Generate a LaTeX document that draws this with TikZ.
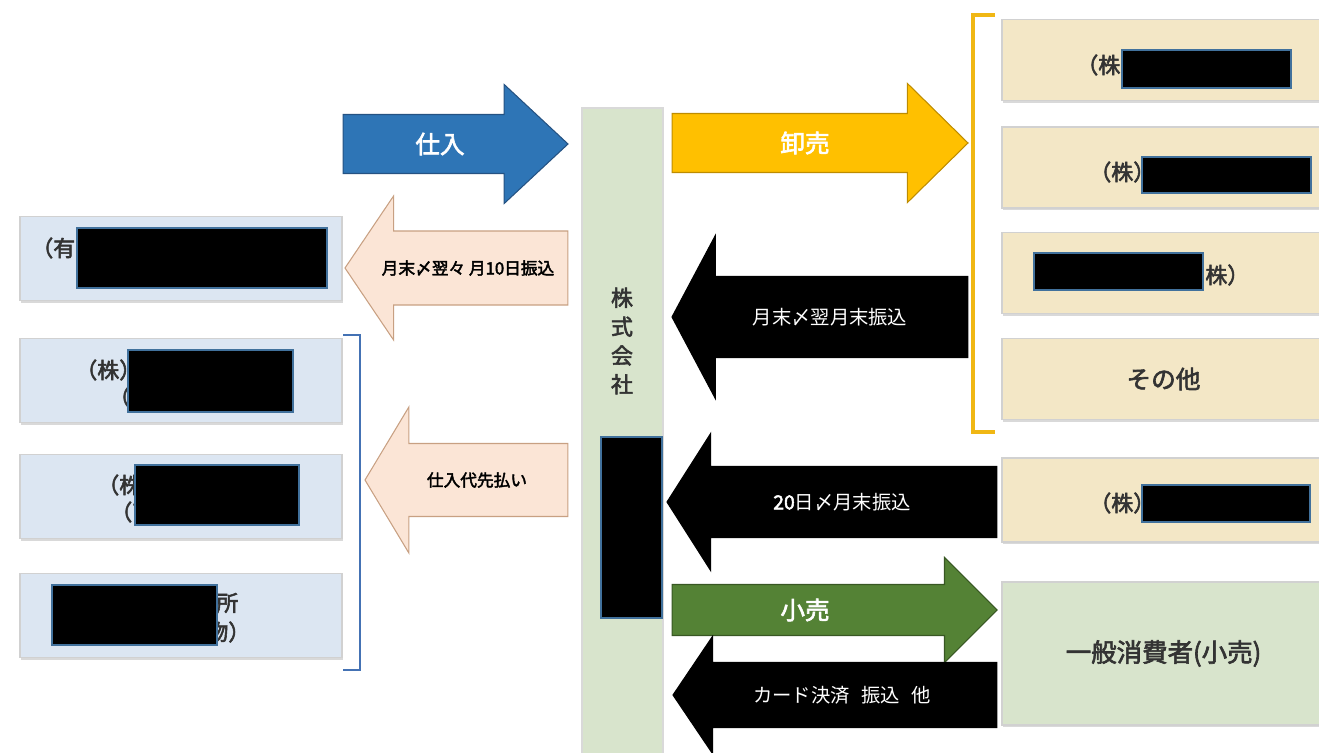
\documentclass[tikz,border=0pt]{standalone}
\usepackage{fontspec}
\setmainfont{Noto Sans CJK JP}[AutoFakeBold=2.5]
\usepackage{xcolor}
\usetikzlibrary{shapes.arrows, shadows}
\definecolor{buyblue}{RGB}{46,117,182}
\definecolor{buyline}{RGB}{37,82,130}
\definecolor{sellorange}{RGB}{255,192,0}
\definecolor{sellline}{RGB}{190,140,0}
\definecolor{paypeach}{RGB}{251,229,214}
\definecolor{payline}{RGB}{200,160,130}
\definecolor{retailgreen}{RGB}{84,130,53}
\definecolor{retailline}{RGB}{56,87,35}
\definecolor{compgreen}{RGB}{216,228,204}
\definecolor{custbeige}{RGB}{243,231,198}
\definecolor{supblue}{RGB}{220,230,242}
\definecolor{bracketgold}{RGB}{240,183,20}
\definecolor{bracketblue}{RGB}{68,114,180}
\definecolor{redblue}{RGB}{65,113,156}

\begin{document}
\begin{tikzpicture}[x=0.02cm, y=-0.02cm, every node/.style={font=\normalfont}]
    % Define styles
    \tikzstyle{box} = [rectangle, draw=black!18, line width=1pt, minimum width=6.44cm, minimum height=1.68cm, inner sep=0pt, drop shadow={shadow xshift=0.4pt, shadow yshift=-1.2pt, opacity=0.3}]
    \tikzstyle{supplier} = [box, fill=supblue]
    \tikzstyle{customer} = [box, fill=custbeige, minimum width=6.46cm, minimum height=1.62cm]
    \tikzstyle{blockarrow} = [single arrow, inner xsep=0pt, outer sep=0pt, line width=0.6pt, anchor=tip]
    \tikzstyle{leftarrow} = [blockarrow, shape border rotate=180]
    \tikzstyle{redact} = [fill=black, draw=redblue, line width=1.2pt]
    \tikzstyle{boxtext} = [font=\fontsize{12.5pt}{15pt}\selectfont\bfseries, text=black!80, inner sep=0pt]
    \tikzstyle{bigtext} = [font=\fontsize{14pt}{16pt}\selectfont\bfseries, text=white, inner sep=0pt]
    \tikzstyle{darktext} = [font=\fontsize{11pt}{13pt}\selectfont, text=white, inner sep=0pt]
    \tikzstyle{peachtext} = [font=\fontsize{9.5pt}{11pt}\selectfont\bfseries, text=black, inner sep=0pt]

    \useasboundingbox (0,0) rectangle (1319,753);

    % Company in the middle
    \node (company) [rectangle, draw=black!15, line width=1pt, fill=compgreen, minimum width=1.62cm, minimum height=13.04cm, drop shadow={shadow xshift=0.4pt, shadow yshift=-1.2pt, opacity=0.3}] at (622.5,434) {};
    \node (companyname) [font=\fontsize{12.5pt}{16.4pt}\selectfont\bfseries, text=black!80, align=center, inner sep=0pt] at (622,341) {株\\式\\会\\社};

    % Suppliers on the left
    \node (yugen) [supplier] at (181,258.5) {};
    \node (sup1) [supplier] at (181,380.5) {};
    \node (sup2) [supplier] at (181,496.5) {};
    \node (sup3) [supplier] at (181,615.5) {};
    \node (yugentext) [boxtext, anchor=west] at (31,248) {（有};
    \node (sup1text) [boxtext, anchor=west] at (75,370) {（株）};
    \node (sup1sub) [boxtext, anchor=west] at (108,397) {（};
    \node (sup2text) [boxtext, anchor=west] at (97,485) {（株};
    \node (sup2sub) [boxtext, anchor=west] at (110,512) {（高};
    \node (sup3text) [boxtext, anchor=west] at (216,603) {所};
    \node (sup3sub) [boxtext, anchor=west] at (206,632) {物）};

    % Customers on the right
    \node (ws1) [customer] at (1163.5,60) {};
    \node (ws2) [customer] at (1163.5,167.5) {};
    \node (ws3) [customer] at (1163.5,273) {};
    \node (ws4) [customer, font=\fontsize{14pt}{16pt}\selectfont\bfseries, text=black!80] at (1163.5,379) {その他};
    \node (ws5) [customer, minimum height=1.68cm] at (1163.5,500) {};
    \node (consumer) [box, fill=compgreen, minimum width=6.46cm, minimum height=2.86cm, font=\fontsize{14.5pt}{17pt}\selectfont\bfseries, text=black!80] at (1163.5,653.5) {一般消費者(小売)};
    \node (ws1text) [boxtext, anchor=west] at (1076,65) {（株};
    \node (ws2text) [boxtext, anchor=west] at (1089,172) {（株）};
    \node (ws3text) [boxtext, anchor=west] at (1205,275) {株）};
    \node (ws5text) [boxtext, anchor=west] at (1089,503) {（株）};

    % Brackets
    \draw [bracketgold, line width=1.8pt] (995,15) -- (973,15) -- (973,432) -- (995,432);
    \draw [bracketblue, line width=1.5pt] (343,335) -- (360,335) -- (360,670) -- (343,670);

    % Goods arrows
    \node (buyarrow) [blockarrow, fill=buyblue, draw=buyline, minimum height=4.5cm, inner ysep=0.58cm, single arrow head extend=0.6cm, single arrow tip angle=86] at (568,144) {};
    \node (wsarrow) [blockarrow, fill=sellorange, draw=sellline, minimum height=5.92cm, inner ysep=0.58cm, single arrow head extend=0.6cm, single arrow tip angle=89] at (968,143) {};
    \node (retailarrow) [blockarrow, fill=retailgreen, draw=retailline, minimum height=6.5cm, inner ysep=0.5cm, single arrow head extend=0.54cm, single arrow tip angle=90] at (997,610) {};
    \node (buylabel) [bigtext] at (440,144) {仕入};
    \node (wslabel) [bigtext] at (805,143) {卸売};
    \node (retaillabel) [bigtext] at (805,610) {小売};

    % Payment arrows
    \node (payarrow) [leftarrow, fill=paypeach, draw=payline, minimum height=4.46cm, inner ysep=0.73cm, single arrow head extend=0.7cm, single arrow tip angle=112] at (345,268) {};
    \node (prepayarrow) [leftarrow, fill=paypeach, draw=payline, minimum height=4.06cm, inner ysep=0.72cm, single arrow head extend=0.73cm, single arrow tip angle=118] at (365,480) {};
    \node (recvarrowA) [leftarrow, fill=black, draw=black, minimum height=5.92cm, inner ysep=0.8cm, single arrow head extend=0.82cm, single arrow tip angle=124] at (672,317) {};
    \node (recvarrowB) [leftarrow, fill=black, draw=black, minimum height=6.6cm, inner ysep=0.7cm, single arrow head extend=0.66cm, single arrow tip angle=115] at (667,502) {};
    \node (recvarrowC) [leftarrow, fill=black, draw=black, minimum height=6.48cm, inner ysep=0.64cm, single arrow head extend=0.52cm, single arrow tip angle=112] at (673,695) {};
    \node (paylabel) [peachtext] at (468,268) {月末〆翌々 月10日振込};
    \node (prepaylabel) [peachtext] at (477,480) {仕入代先払い};
    \node (recvlabelA) [darktext] at (830,317) {月末〆翌月末振込};
    \node (recvlabelB) [darktext] at (842,502) {\textbf{20}日〆月末振込};
    \node (recvlabelC) [darktext] at (842,695) {カード決済\hspace{0.6em}振込\hspace{0.6em}他};

    % Hidden names
    \draw [redact] (77,228) rectangle (327,288);
    \draw [redact] (128,350) rectangle (293,412);
    \draw [redact] (135,465) rectangle (299,525);
    \draw [redact] (52,585) rectangle (217,645);
    \draw [redact] (601,437) rectangle (662,618);
    \draw [redact] (1122,50) rectangle (1291,88);
    \draw [redact] (1142,157) rectangle (1311,193);
    \draw [redact] (1034,253) rectangle (1203,290);
    \draw [redact] (1142,485) rectangle (1310,522);
\end{tikzpicture}
\end{document}
